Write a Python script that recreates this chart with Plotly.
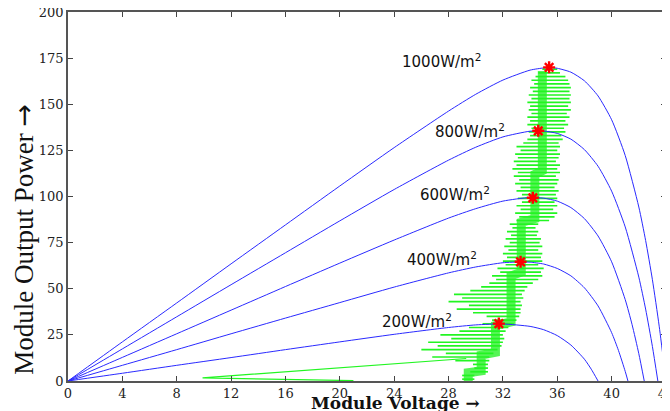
import plotly.graph_objects as go

# ---------------- data ----------------
irradiance_labels = ["1000W/m<sup>2</sup>", "800W/m<sup>2</sup>", "600W/m<sup>2</sup>",
                     "400W/m<sup>2</sup>", "200W/m<sup>2</sup>"]

V_1000 = [0, 4, 8, 12, 16, 20, 24, 28, 30, 32, 34, 35, 35.4, 36, 37, 38, 39, 40, 41, 42, 42.5, 43, 43.5, 44]
P_1000 = [0, 21.2, 42.3, 63.5, 84.6, 105.7, 126.5, 146.3, 155.4, 163.1, 168.5, 169.7, 170.0, 169.5, 167.4,
          162.7, 154.5, 141.6, 122.2, 94.3, 76.2, 54.9, 29.7, 0]

V_800 = [0, 4, 8, 12, 16, 20, 24, 28, 30, 32, 34, 35, 36, 37, 38, 39, 40, 41, 42, 42.5, 43, 43.4]
P_800 = [0, 17.4, 34.8, 52.2, 69.5, 86.8, 103.8, 119.7, 126.7, 132.3, 135.4, 135.5, 134.2, 131.1, 125.4,
         116.4, 102.9, 83.5, 56.3, 39.0, 18.7, 0]

V_600 = [0, 4, 8, 12, 16, 20, 24, 28, 30, 32, 34, 35, 36, 37, 38, 39, 40, 41, 41.5, 42, 42.4]
P_600 = [0, 12.8, 25.6, 38.4, 51.2, 63.9, 76.4, 88.3, 93.4, 97.5, 99.5, 99.1, 97.5, 94.0, 88.0, 78.6, 64.6,
         44.1, 30.7, 14.8, 0]

V_400 = [0, 4, 8, 12, 16, 20, 24, 28, 30, 32, 33.3, 34, 35, 36, 37, 38, 39, 40, 40.5, 41, 41.2]
P_400 = [0, 8.5, 17.0, 25.6, 34.1, 42.5, 50.9, 58.6, 61.8, 64.1, 64.5, 64.4, 63.4, 61.0, 57.0, 50.5, 40.7,
         26.2, 16.6, 5.2, 0]

V_200 = [0, 4, 8, 12, 16, 20, 24, 28, 30, 32, 34, 35, 36, 37, 38, 38.5, 39]
P_200 = [0, 4.2, 8.5, 12.7, 17.0, 21.2, 25.3, 29.0, 30.4, 30.9, 29.6, 27.8, 24.6, 19.5, 11.8, 6.4, 0]

# maximum power points (red stars)
mpp_v = [35.4, 34.6, 34.2, 33.3, 31.7]
mpp_p = [170.0, 135.6, 99.3, 64.6, 31.1]

# label anchor positions (V, P)
label_v = [27.5, 29.6, 28.5, 27.5, 25.7]
label_p = [173.5, 135.5, 101.4, 66.1, 32.6]

# MPPT start-up excursion
start_v = [21.0, 9.9, 29.3]
start_p = [0.2, 1.7, 12.2]

# MPPT oscillation band: power level, left and right extents of each oscillation
osc_p = [1, 3, 5, 7, 9, 11, 13, 15, 17, 19, 21, 23, 25, 27, 29, 31, 33, 35, 37, 39, 41, 43, 45, 47, 49,
         51, 53, 55, 57, 59, 61, 63, 65, 67, 69, 71, 73, 75, 77, 79, 81, 83, 85, 87, 89, 91, 93, 95, 97,
         99, 101, 103, 105, 107, 109, 111, 113, 115, 117, 119, 121, 123, 125, 127, 129, 131, 133, 135,
         137, 139, 141, 143, 145, 147, 149, 151, 153, 155, 157, 159, 161, 163, 165, 167, 169]
osc_vl = [29.0, 29.0, 29.6, 29.9, 29.8, 28.5, 26.8, 27.8, 26.0, 27.2, 26.5, 28.2, 27.4, 28.8, 29.5, 30.5,
          31.2, 30.8, 29.8, 28.6, 29.5, 28.0, 29.0, 28.4, 29.6, 30.4, 31.0, 31.5, 31.2, 31.8, 31.6, 32.2,
          32.0, 32.3, 32.0, 32.4, 32.1, 32.5, 32.2, 32.6, 32.3, 32.7, 32.5, 33.0, 33.2, 32.9, 33.3, 33.0,
          33.4, 33.1, 33.4, 33.0, 33.3, 32.9, 33.2, 32.8, 33.1, 32.7, 33.0, 32.8, 33.1, 32.9, 33.3, 33.0,
          33.5, 33.8, 34.0, 33.9, 34.1, 33.8, 34.0, 33.8, 34.1, 33.9, 34.0, 33.8, 34.1, 33.9, 34.2, 34.0,
          34.3, 34.1, 34.4, 34.6, 34.9]
osc_vr = [29.9, 29.9, 30.9, 30.9, 30.9, 31.0, 31.0, 31.3, 31.6, 31.9, 32.0, 32.1, 32.0, 32.2, 32.4, 32.8,
          33.0, 33.2, 33.3, 33.3, 33.4, 33.3, 33.5, 33.4, 33.6, 33.8, 34.2, 34.6, 34.9, 34.8, 35.0, 34.6,
          34.9, 34.8, 34.9, 34.6, 34.9, 34.7, 34.8, 34.5, 34.6, 34.4, 34.6, 35.4, 35.8, 36.0, 35.7, 36.0,
          35.8, 36.0, 35.9, 36.1, 35.8, 36.0, 36.1, 35.9, 36.2, 36.0, 36.2, 35.9, 36.1, 36.2, 36.0, 36.2,
          36.1, 36.4, 36.3, 36.6, 36.5, 36.8, 36.6, 36.9, 36.7, 37.0, 36.8, 37.0, 36.9, 37.0, 36.9, 37.0,
          36.9, 36.8, 36.6, 36.2, 36.0]

# dense core of the tracking trajectory
core_v = [29.45, 29.45, 30.4, 30.4, 31.45, 31.45, 32.6, 32.6, 33.35, 33.35, 34.35, 34.35, 34.9, 34.9]
core_p = [0, 4.5, 5.5, 14, 15.5, 30, 32, 57, 59, 86, 88, 112, 114, 168]

x_ticks = [0, 4, 8, 12, 16, 20, 24, 28, 32, 36, 40, 44]
y_ticks = [0, 25, 50, 75, 100, 125, 150, 175, 200]

# ---------------- figure ----------------
GREEN = "#22f522"
BLUE = "#2a2aff"

fig = go.Figure()

# individual oscillation strokes
st_v, st_p = [], []
for p, vl, vr in zip(osc_p, osc_vl, osc_vr):
    st_v += [vl, vr, None]
    st_p += [p, p, None]

fig.add_trace(go.Scatter(x=start_v, y=start_p, mode="lines",
                         line=dict(color=GREEN, width=1.2), hoverinfo="skip"))
fig.add_trace(go.Scatter(x=core_v, y=core_p, mode="lines",
                         line=dict(color="rgba(30,240,30,0.75)", width=9), hoverinfo="skip"))
fig.add_trace(go.Scatter(x=st_v, y=st_p, mode="lines", connectgaps=False,
                         line=dict(color=GREEN, width=1.7), hoverinfo="skip"))

for vv, pp in [(V_1000, P_1000), (V_800, P_800), (V_600, P_600), (V_400, P_400), (V_200, P_200)]:
    fig.add_trace(go.Scatter(x=vv, y=pp, mode="lines",
                             line=dict(color=BLUE, width=1, shape="spline", smoothing=0.6),
                             hoverinfo="skip"))

fig.add_trace(go.Scatter(x=mpp_v, y=mpp_p, mode="markers",
                         marker=dict(symbol="asterisk-open", size=10, color="red",
                                     line=dict(color="red", width=2.4)),
                         hoverinfo="skip"))

for txt, lv, lp in zip(irradiance_labels, label_v, label_p):
    fig.add_annotation(x=lv, y=lp, xref="x", yref="y", text=txt, showarrow=False,
                       font=dict(family="DejaVu Sans", size=15, color="#111"),
                       xanchor="center", yanchor="middle")

# axis titles
fig.add_annotation(x=0.548, y=-0.06, xref="paper", yref="paper",
                   text="<b>Module Voltage \u2192</b>",
                   showarrow=False, xanchor="center", yanchor="middle",
                   font=dict(family="DejaVu Serif", size=17, color="#111"))
fig.add_annotation(x=-0.074, y=0.385, xref="paper", yref="paper",
                   text="Module Output Power <span style='font-family:DejaVu Sans'>\u2192</span>",
                   showarrow=False, xanchor="center", yanchor="middle", textangle=-90,
                   font=dict(family="Liberation Serif", size=27, color="#111"))

axis_common = dict(showgrid=False, zeroline=False, showline=True, linecolor="#555", linewidth=1.5,
                   mirror="allticks", ticks="inside", ticklen=5, tickwidth=1.2, tickcolor="#444",
                   automargin=False, ticklabeloverflow="allow",
                   tickfont=dict(family="DejaVu Serif", size=13, color="#222"))

fig.update_xaxes(range=[0, 44], tickvals=x_ticks, ticktext=[str(t) for t in x_ticks], **axis_common)
fig.update_yaxes(range=[0, 200], tickvals=y_ticks, ticktext=[str(t) for t in y_ticks], **axis_common)

# the page body adds an 8 px offset, so the figure is sized to fit the 670x411 window
fig.update_layout(width=662, height=403, showlegend=False,
                  margin=dict(l=60, r=4, t=4, b=30),
                  plot_bgcolor="white", paper_bgcolor="white")

fig.write_html("out.html")
